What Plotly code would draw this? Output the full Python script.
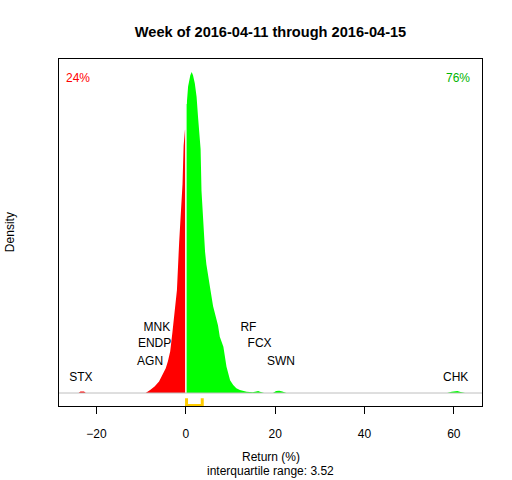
import plotly.graph_objects as go

# ---- data ----
title_text = "Week of 2016-04-11 through 2016-04-15"

# density of weekly returns, negative side (red)
neg_x = [-25.0, -24.0, -23.6, -23.2, -22.8, -22.4, -22.0,
         -9.0, -8.0, -7.0, -6.0, -5.5, -5.0, -4.5, -4.0, -3.5, -3.0,
         -2.5, -2.0, -1.5, -1.0, -0.75, -0.5, -0.2, 0.0]
neg_y = [0.0, 0.0, 0.005, 0.006, 0.005, 0.0, 0.0,
         0.0, 0.009, 0.02, 0.036, 0.05, 0.065, 0.077, 0.10, 0.13, 0.19,
         0.25, 0.32, 0.47, 0.58, 0.65, 0.77, 0.82, 0.82]

# density of weekly returns, positive side (green)
pos_x = [0.0, 0.2, 0.5, 0.75, 1.0, 1.3, 1.6, 2.0, 2.4, 2.75, 3.0, 3.3, 3.5,
         3.9, 4.3, 4.6, 5.0, 5.4, 6.1, 6.6, 7.2, 7.6, 8.4, 9.1, 9.9, 10.6,
         11.3, 12.1, 13.6, 15.0, 15.8, 16.2, 16.6, 17.5, 19.5, 20.2, 20.9,
         21.6, 22.5, 58.5, 59.5, 60.2, 60.8, 61.5, 62.5]
pos_y = [0.90, 0.90, 0.955, 0.975, 0.99, 1.0, 0.99, 0.965, 0.923, 0.856,
         0.80, 0.76, 0.63, 0.52, 0.44, 0.40, 0.36, 0.33, 0.27, 0.24, 0.21,
         0.175, 0.144, 0.082, 0.04, 0.025, 0.015, 0.009, 0.004, 0.002, 0.005,
         0.006, 0.004, 0.0, 0.0, 0.006, 0.007, 0.005, 0.0, 0.0, 0.004, 0.006,
         0.006, 0.003, 0.0]

# labelled outliers: ticker, weekly return (%), label row
tickers = ["STX", "MNK", "ENDP", "AGN", "RF", "FCX", "SWN", "CHK"]
ticker_returns = [-23.5, -6.5, -7.0, -8.0, 14.0, 16.5, 21.3, 60.4]
ticker_rows = [0.048, 0.203, 0.152, 0.0975, 0.203, 0.152, 0.0975, 0.048]

pct_down = 24
pct_up = 76
q1, q3 = 0.15, 3.67
iqr_value = 3.52

x_ticks = [-20, 0, 20, 40, 60]

FONT = "Liberation Sans, Arial, sans-serif"

fig = go.Figure()
fig.add_trace(go.Scatter(x=neg_x, y=neg_y, mode="lines", fill="tozeroy",
                         fillcolor="#FF0000", line=dict(width=0, color="#FF0000"),
                         hoverinfo="skip", showlegend=False))
fig.add_trace(go.Scatter(x=pos_x, y=pos_y, mode="lines", fill="tozeroy",
                         fillcolor="#00FF00", line=dict(width=0, color="#00FF00"),
                         hoverinfo="skip", showlegend=False))

# white divider at zero
fig.add_shape(type="line", x0=0, x1=0, y0=0, y1=max(pos_y), xref="x", yref="y",
              line=dict(color="white", width=1.5), layer="above")
# gray baseline
fig.add_shape(type="line", x0=0, x1=1, y0=0, y1=0, xref="paper", yref="y",
              line=dict(color="#BEBEBE", width=1), layer="above")

# IQR bracket
fig.add_trace(go.Scatter(x=[q1, q1, q3, q3], y=[-0.0165, -0.039, -0.039, -0.0165],
                         mode="lines", line=dict(color="#FFCC00", width=3),
                         cliponaxis=False, hoverinfo="skip", showlegend=False))

# ticker labels
fig.add_trace(go.Scatter(x=ticker_returns, y=ticker_rows, mode="text",
                         text=tickers, textposition="middle center",
                         textfont=dict(family=FONT, size=12, color="black"),
                         hoverinfo="skip", showlegend=False))

ann = []
ann.append(dict(x=-24.2, y=0.98, xref="x", yref="y", text=f"{pct_down}%",
                showarrow=False, font=dict(family=FONT, size=12, color="#FF0000")))
ann.append(dict(x=61.0, y=0.98, xref="x", yref="y", text=f"{pct_up}%",
                showarrow=False, font=dict(family=FONT, size=12, color="#00B400")))
ann.append(dict(x=0.5, y=(406 - 457) / 347, xref="paper", yref="paper",
                text="Return (%)", showarrow=False, yanchor="middle",
                font=dict(family=FONT, size=12, color="black")))
ann.append(dict(x=0.5, y=(406 - 471) / 347, xref="paper", yref="paper",
                text=f"interquartile range: {iqr_value:.2f}", showarrow=False,
                yanchor="middle", font=dict(family=FONT, size=12, color="black")))
ann.append(dict(x=(10 - 59.3) / 422.4, y=0.5, xref="paper", yref="paper",
                text="Density", textangle=-90, showarrow=False, xanchor="center",
                yanchor="middle", font=dict(family=FONT, size=12, color="black")))

fig.update_layout(
    width=512, height=480,
    margin=dict(l=59, r=30, t=59, b=74, pad=0),
    paper_bgcolor="white", plot_bgcolor="white",
    title=dict(text=f"<b>{title_text}</b>", x=270.5 / 512, xanchor="center",
               y=1 - 32 / 480, yanchor="middle", yref="container",
               font=dict(family=FONT, size=14.6, color="black")),
    xaxis=dict(range=[-28.4, 66.3], tickvals=x_ticks, ticks="outside", ticklen=7,
               tickcolor="black", showline=True, linecolor="black", linewidth=1,
               mirror=True, showgrid=False, zeroline=False, ticklabelstandoff=10,
               tickfont=dict(family=FONT, size=12, color="black")),
    yaxis=dict(range=[-0.0405, 1.0405], showticklabels=False, ticks="",
               showline=True, linecolor="black", linewidth=1, mirror=True,
               showgrid=False, zeroline=False),
    annotations=ann,
    showlegend=False,
)

fig.write_html("out.html",
               config={"displayModeBar": False},
               post_script="document.body.style.margin='0';"
                           "document.body.style.overflow='hidden';")
